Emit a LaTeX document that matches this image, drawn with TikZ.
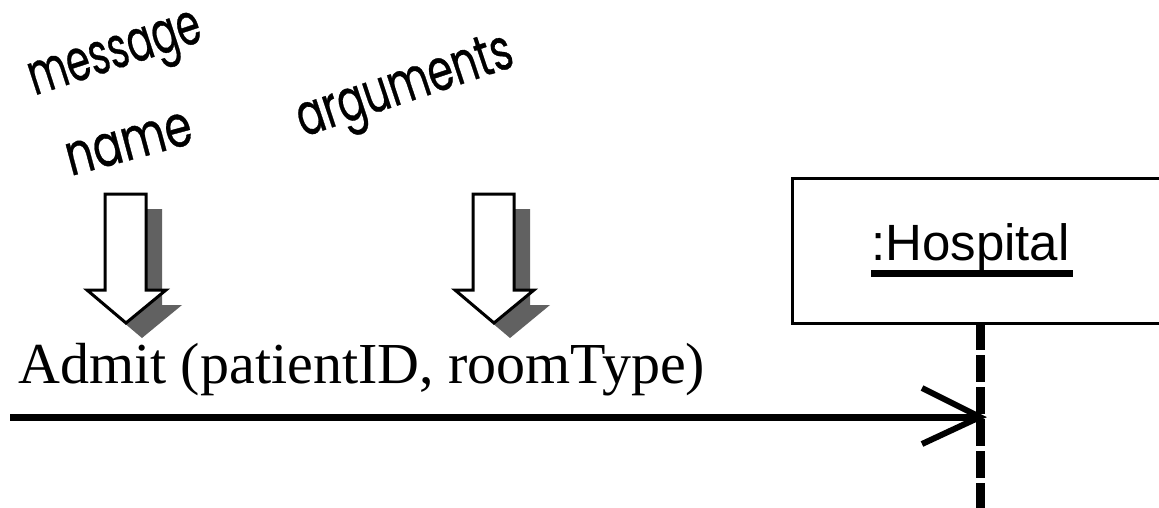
\documentclass[tikz,border=0pt]{standalone}
\usepackage{fontspec}
\setmainfont{Liberation Serif}
\newfontfamily\armsans{Liberation Sans}
\newfontfamily\handfont[FakeBold=0.6]{Poppins}
\usetikzlibrary{calc}
\tikzset{
  hand/.style={inner sep=0pt, font=\handfont\fontsize{58}{58}\selectfont},
  blockarrow/.style={draw=black, line width=3pt, fill=white, line join=miter},
  blockshadow/.style={fill=black!62, draw=none},
  msgline/.style={line width=7pt},
  lifeline/.style={line width=9pt, dash pattern=on 27pt off 5pt},
}
\begin{document}
\begin{tikzpicture}[x=1pt,y=-1pt]
\useasboundingbox (0,0) rectangle (1159,508);
\fill[white] (0,0) rectangle (1159,508);
\clip (0,0) rectangle (1159,508);
% handwritten labels
\node[hand, rotate=18] (msg) at (117,60) {\scalebox{0.66}[1]{message}};
\node[hand, rotate=15] (nm) at (129,144) {\scalebox{0.75}[1]{name}};
\node[hand, rotate=18.5] (args) at (406,90) {\scalebox{0.7}[1]{arguments}};
% block arrows with shadows
\foreach \ox/\nm in {0/one, 368/two}{
  \begin{scope}[shift={(\ox,0)}]
    \fill[blockshadow] (121,209) -- (162,209) -- (162,305) -- (182,305) -- (142,338) -- (103,305) -- (121,305) -- cycle;
    \draw[blockarrow] (105,194) -- (146,194) -- (146,290) -- (166,290) -- (126,323) -- (87,290) -- (105,290) -- cycle;
  \end{scope}
}
% message text
\node[anchor=base west, inner sep=0pt, font=\fontsize{58}{58}\selectfont] (admit) at (18,383) {Admit (patientID, roomType)};
% object box
\draw[line width=3pt] (1170,178) -- (792,178) -- (792,323) -- (1170,323);
\node[anchor=base west, inner sep=0pt, font=\armsans\fontsize{51}{51}\selectfont] (hosp) at (871,260) {:Hospital};
\draw[line width=7pt] (871,273) -- (1073,273);
% lifeline
\coordinate (lifetop) at (980,323);
\coordinate (lifebot) at (980,512);
\draw[lifeline] (lifetop) -- (lifebot);
% message arrow
\coordinate (start) at (10,417);
\coordinate (tip) at (980,417);
\draw[msgline] (start) -- (tip);
\draw[line width=6pt, line join=miter] ($(tip)+(-58,-29)$) -- (tip) -- ($(tip)+(-58,27)$);
\end{tikzpicture}
\end{document}
